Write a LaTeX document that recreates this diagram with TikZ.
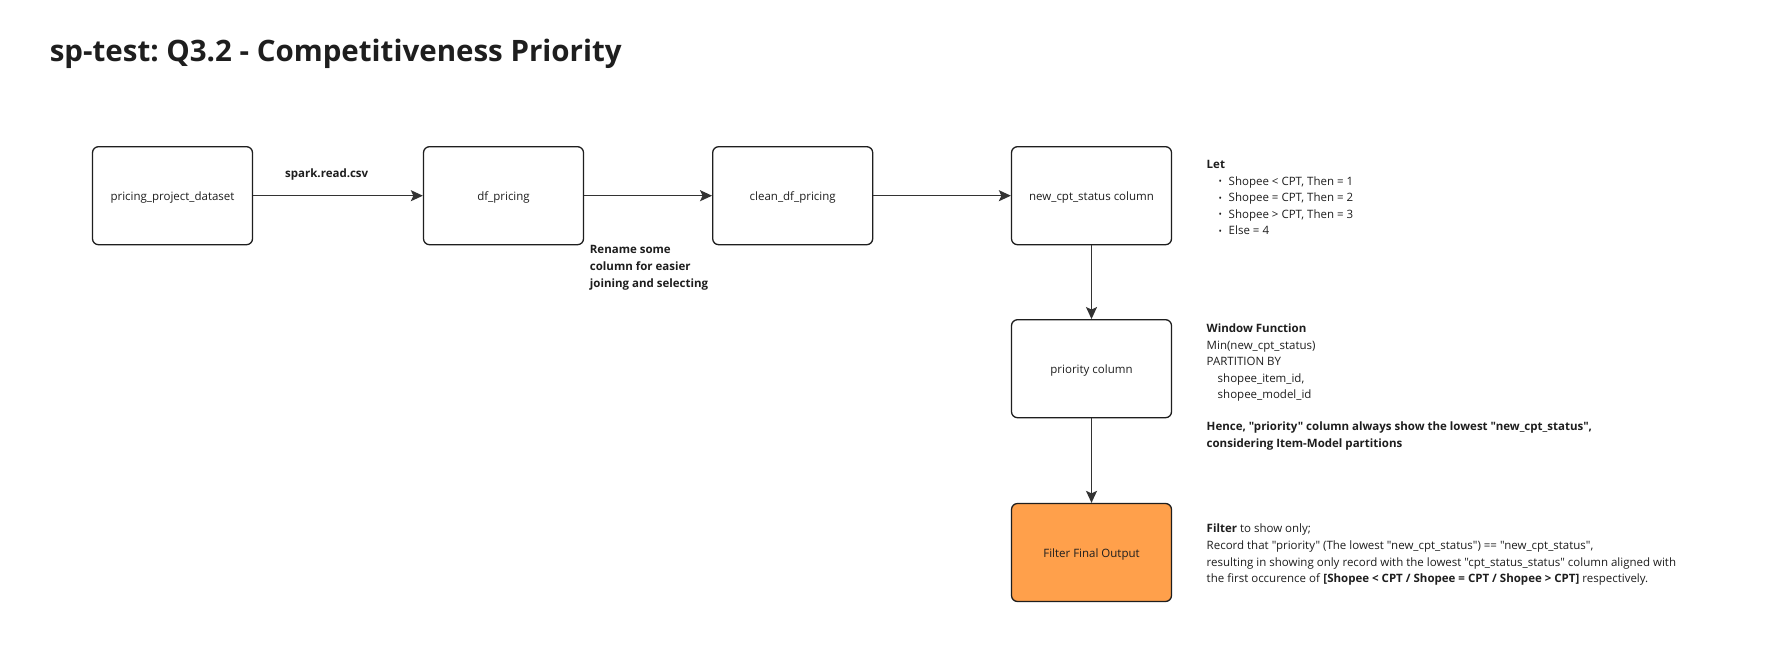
\documentclass[tikz,border=0pt]{standalone}
\usepackage{fontspec}
\setmainfont{Open Sans}[Ligatures=TeXOff]
\usetikzlibrary{arrows.meta}
\frenchspacing
\definecolor{ink}{HTML}{1E1E1E}
\definecolor{lineclr}{HTML}{333333}
\definecolor{orangefill}{RGB}{255,160,75}
\tikzset{
  box/.style={draw=ink, line width=1.3pt, rounded corners=6pt, minimum width=160pt, minimum height=98pt, inner sep=0pt, text height=10pt, text depth=0pt, font=\fontsize{11.5}{14}\selectfont, text=ink},
  conn/.style={draw=lineclr, line width=1.4pt, -{Stealth[length=12pt,width=11pt,inset=2.5pt]}},
  note/.style={anchor=north west, align=left, inner sep=0pt, text=ink, font=\fontsize{11.5}{16.6}\selectfont},
}
\newcommand{\bul}{\hspace*{12pt}\makebox[10pt][l]{\raisebox{0.5pt}{\fontsize{9}{9}\selectfont•}}}
\begin{document}
\begin{tikzpicture}[x=1pt,y=-1pt]
\useasboundingbox[fill=white] (0,0) rectangle (1768,664);
\node[anchor=west, inner sep=0pt, text=ink, font=\fontsize{29.5}{32}\selectfont\bfseries] (title) at (49.6,54) {sp-test: Q3.2 - Competitiveness Priority};

\node[box] (b1) at (172.5,195.7) {pricing\_project\_dataset};
\node[box] (b2) at (503.5,195.7) {df\_pricing};
\node[box] (b3) at (792.7,195.7) {clean\_df\_pricing};
\node[box] (b4) at (1091.5,195.7) {new\_cpt\_status column};
\node[box] (b5) at (1091.5,368.7) {priority column};
\node[box, fill=orangefill] (b6) at (1091.5,552.5) {Filter Final Output};

\draw[conn] (b1) -- (b2);
\draw[conn] (b2) -- (b3);
\draw[conn] (b3) -- (b4);
\draw[conn] (b4) -- (b5);
\draw[conn] (b5) -- (b6);

\node[anchor=west, inner sep=0pt, text=ink, font=\fontsize{11.5}{14}\selectfont\bfseries] (lspark) at (285,174.5) {spark.read.csv};
\node[note, font=\fontsize{11.5}{16.6}\selectfont\bfseries] (lrename) at (589.7,245.5) {Rename some\\column for easier\\joining and selecting};

\node[note] (nlet) at (1206.5,160) {\textbf{Let}\\
\bul Shopee < CPT, Then = 1\\
\bul Shopee = CPT, Then = 2\\
\bul Shopee > CPT, Then = 3\\
\bul Else = 4};

\node[note] (nwin) at (1206.5,323.5) {\textbf{Window Function}\\
Min(new\_cpt\_status)\\
PARTITION BY\\
\hspace*{11pt}shopee\_item\_id,\\
\hspace*{11pt}shopee\_model\_id};

\node[note, font=\fontsize{11.5}{16.6}\selectfont\bfseries] (nhence) at (1206.5,421.5) {Hence, "priority" column always show the lowest "new\_cpt\_status",\\considering Item-Model partitions};

\node[note] (nfilter) at (1206.5,524) {\textbf{Filter} to show only;\\
Record that "priority" (The lowest "new\_cpt\_status") == "new\_cpt\_status",\\
resulting in showing only record with the lowest "cpt\_status\_status" column aligned with\\
the first occurence of \textbf{[Shopee < CPT / Shopee = CPT / Shopee > CPT]} respectively.};
\end{tikzpicture}
\end{document}
